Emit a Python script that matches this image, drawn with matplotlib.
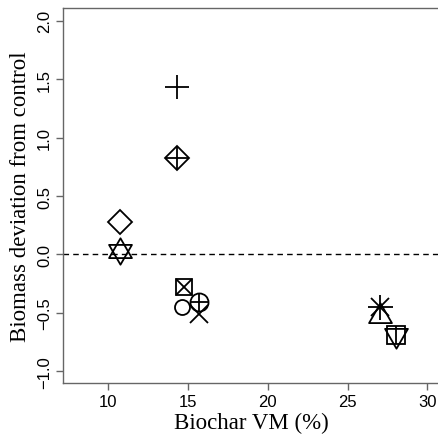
import numpy as np
import matplotlib.pyplot as plt
from matplotlib.path import Path

# data
vm = [14.3, 14.3, 10.75, 10.75, 14.75, 14.6, 15.7, 15.7, 27.0, 27.0, 28.05]
deviation = [1.43, 0.83, 0.28, 0.03, -0.28, -0.45, -0.41, -0.51, -0.45, -0.53, -0.69]
symbol = ['plus', 'diamond_plus', 'diamond', 'star_david', 'square_x', 'circle',
          'circle_plus', 'cross', 'asterisk', 'triangle_up', 'square_tri_down']

xticks = [10, 15, 20, 25, 30]
yticks = [-1.0, -0.5, 0.0, 0.5, 1.0, 1.5, 2.0]

# equilateral triangles centred on their centroid (like R pch 2 / 6)
tri_up = Path([(-1, -0.577), (1, -0.577), (0, 1.155), (-1, -0.577)], closed=True)
tri_down = Path([(-1, 0.577), (1, 0.577), (0, -1.155), (-1, 0.577)], closed=True)

# marker pieces per symbol: (marker, size in points)
pieces = {
    'plus': [('+', 17)],
    'diamond_plus': [('D', 12.2), ('+', 17)],
    'diamond': [('D', 12.2)],
    'star_david': [(tri_up, 19), (tri_down, 19)],
    'square_x': [('s', 12.2), ('x', 12.2)],
    'circle': [('o', 10.8)],
    'circle_plus': [('o', 13), ('+', 13)],
    'cross': [('x', 13)],
    'asterisk': [('+', 18), ('x', 13)],
    'triangle_up': [(tri_up, 19)],
    'square_tri_down': [('s', 13), (tri_down, 19), ('|', 13)],
}

fig = plt.figure(figsize=(4.39, 4.39), dpi=100)
ax = fig.add_axes([0.1435, 0.1253, 0.86, 0.8542])

ax.axhline(0, color='black', lw=1, linestyle=(0, (4, 3)), zorder=1)

for x, y, s in zip(vm, deviation, symbol):
    for m, ms in pieces[s]:
        ax.plot(x, y, marker=m, ms=ms, mfc='none', mec='black', mew=1.3,
                linestyle='none', zorder=3)

ax.set_xlim(7.17, 30.82)
ax.set_ylim(-1.10, 2.11)
ax.set_xticks(xticks)
ax.set_yticks(yticks)
ax.set_xticklabels([str(t) for t in xticks], family='Liberation Sans', fontsize=12)
ax.set_yticklabels([f'{t:.1f}'.replace('-', '\u2212') for t in yticks],
                   family='Liberation Sans', fontsize=12, rotation=90, va='center')

for side in ['left', 'bottom', 'top']:
    ax.spines[side].set_color('#666666')
    ax.spines[side].set_linewidth(1)
ax.spines['right'].set_visible(False)
ax.tick_params(direction='out', length=5, width=1, color='#666666', pad=3)

ax.set_xlabel('Biochar VM (%)', family='Liberation Serif', fontsize=16.5, labelpad=2)
ax.set_ylabel('Biomass deviation from control', family='Liberation Serif',
              fontsize=16.5, labelpad=4)

fig.savefig('out.png', dpi=100)
